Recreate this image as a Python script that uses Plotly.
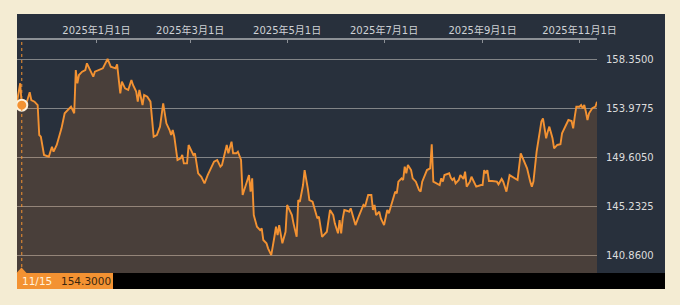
import plotly.graph_objects as go

# ---- data (USD/JPY style daily series) ----
dates = [
    "2024-11-12", "2024-11-13", "2024-11-14", "2024-11-15", "2024-11-18", "2024-11-20",
    "2024-11-21", "2024-11-23", "2024-11-25", "2024-11-26", "2024-11-27", "2024-11-29",
    "2024-12-02", "2024-12-04", "2024-12-05", "2024-12-07", "2024-12-10", "2024-12-12",
    "2024-12-15", "2024-12-16", "2024-12-18", "2024-12-19", "2024-12-20", "2024-12-21",
    "2024-12-23", "2024-12-25", "2024-12-26", "2024-12-27", "2024-12-30", "2024-12-31",
    "2025-01-03", "2025-01-05", "2025-01-08", "2025-01-10", "2025-01-13", "2025-01-14",
    "2025-01-16", "2025-01-17", "2025-01-19", "2025-01-21", "2025-01-23", "2025-01-24",
    "2025-01-26", "2025-01-27", "2025-01-28", "2025-01-29", "2025-01-30", "2025-01-31",
    "2025-02-02", "2025-02-04", "2025-02-05", "2025-02-06", "2025-02-08", "2025-02-10",
    "2025-02-12", "2025-02-14", "2025-02-16", "2025-02-17", "2025-02-18", "2025-02-19",
    "2025-02-21", "2025-02-23", "2025-02-24", "2025-02-25", "2025-02-27", "2025-02-28",
    "2025-03-02", "2025-03-03", "2025-03-04", "2025-03-06", "2025-03-08", "2025-03-09",
    "2025-03-10", "2025-03-12", "2025-03-14", "2025-03-15", "2025-03-16", "2025-03-18",
    "2025-03-20", "2025-03-21", "2025-03-23", "2025-03-24", "2025-03-25", "2025-03-27",
    "2025-03-28", "2025-03-30", "2025-03-31", "2025-04-02", "2025-04-03", "2025-04-05",
    "2025-04-06", "2025-04-07", "2025-04-08", "2025-04-09", "2025-04-10", "2025-04-12",
    "2025-04-14", "2025-04-15", "2025-04-16", "2025-04-18", "2025-04-19", "2025-04-21",
    "2025-04-23", "2025-04-24", "2025-04-25", "2025-04-26", "2025-04-28", "2025-04-30",
    "2025-05-01", "2025-05-04", "2025-05-05", "2025-05-07", "2025-05-08", "2025-05-09",
    "2025-05-11", "2025-05-12", "2025-05-14", "2025-05-15", "2025-05-17", "2025-05-19",
    "2025-05-20", "2025-05-21", "2025-05-23", "2025-05-24", "2025-05-26", "2025-05-28",
    "2025-05-30", "2025-05-31", "2025-06-02", "2025-06-03", "2025-06-04", "2025-06-05",
    "2025-06-06", "2025-06-08", "2025-06-09", "2025-06-10", "2025-06-13", "2025-06-15",
    "2025-06-17", "2025-06-18", "2025-06-19", "2025-06-21", "2025-06-23", "2025-06-24",
    "2025-06-25", "2025-06-26", "2025-06-28", "2025-06-29", "2025-07-01", "2025-07-03",
    "2025-07-04", "2025-07-06", "2025-07-08", "2025-07-09", "2025-07-10", "2025-07-12",
    "2025-07-13", "2025-07-14", "2025-07-15", "2025-07-16", "2025-07-18", "2025-07-19",
    "2025-07-21", "2025-07-23", "2025-07-24", "2025-07-25", "2025-07-27", "2025-07-28",
    "2025-07-30", "2025-07-31", "2025-08-01", "2025-08-03", "2025-08-05", "2025-08-06",
    "2025-08-07", "2025-08-08", "2025-08-11", "2025-08-12", "2025-08-13", "2025-08-14",
    "2025-08-15", "2025-08-17", "2025-08-18", "2025-08-20", "2025-08-21", "2025-08-22",
    "2025-08-24", "2025-08-25", "2025-08-27", "2025-08-28", "2025-08-31", "2025-09-01",
    "2025-09-02", "2025-09-03", "2025-09-04", "2025-09-05", "2025-09-07", "2025-09-09",
    "2025-09-10", "2025-09-11", "2025-09-13", "2025-09-14", "2025-09-15", "2025-09-16",
    "2025-09-18", "2025-09-20", "2025-09-22", "2025-09-23", "2025-09-25", "2025-09-27",
    "2025-09-29", "2025-10-01", "2025-10-02", "2025-10-03", "2025-10-05", "2025-10-07",
    "2025-10-08", "2025-10-09", "2025-10-11", "2025-10-12", "2025-10-13", "2025-10-15",
    "2025-10-16", "2025-10-18", "2025-10-20", "2025-10-21", "2025-10-22", "2025-10-24",
    "2025-10-25", "2025-10-27", "2025-10-28", "2025-10-29", "2025-10-30", "2025-11-01",
    "2025-11-02", "2025-11-03", "2025-11-04", "2025-11-05", "2025-11-06", "2025-11-07",
    "2025-11-09", "2025-11-11", "2025-11-12",
]
values = [
    154.60, 155.50, 156.26, 154.30, 154.50, 155.45,
    154.76, 154.61, 154.31, 151.62, 151.47, 149.83,
    149.68, 150.57, 150.13, 150.73, 152.22, 153.57,
    154.02, 154.16, 153.57, 157.45, 156.26, 157.00,
    157.30, 157.45, 158.05, 157.75, 156.85, 157.30,
    157.45, 157.60, 158.44, 157.75, 157.60, 157.96,
    155.36, 156.40, 155.81, 155.66, 156.56, 156.11,
    155.51, 154.61, 155.66, 155.06, 154.31, 155.21,
    155.06, 154.61, 152.82, 151.47, 151.62, 152.37,
    154.46, 152.67, 152.07, 151.62, 152.07, 151.47,
    149.38, 149.53, 149.83, 149.08, 149.08, 150.73,
    150.13, 149.83, 149.98, 148.19, 147.88, 147.59,
    147.29, 148.03, 148.63, 148.93, 149.23, 149.38,
    148.78, 148.93, 149.98, 150.73, 149.98, 151.02,
    149.98, 149.98, 150.13, 149.38, 146.24, 147.14,
    147.59, 148.03, 146.54, 147.74, 144.45, 143.40,
    143.10, 143.25, 142.21, 141.91, 141.46, 140.86,
    142.50, 143.40, 142.65, 143.55, 141.91, 142.95,
    145.35, 144.45, 143.70, 142.50, 145.79, 145.64,
    147.14, 148.48, 146.84, 145.79, 145.64, 144.74,
    144.15, 144.30, 142.50, 142.65, 142.95, 144.90,
    144.45, 143.70, 142.81, 144.00, 142.81, 144.15,
    144.90, 144.81, 144.74, 145.05, 143.55, 144.30,
    144.90, 145.35, 145.19, 146.24, 146.24, 144.90,
    145.35, 144.45, 144.74, 144.15, 143.55, 144.90,
    144.60, 145.64, 146.54, 146.39, 147.44, 147.74,
    147.59, 148.78, 148.19, 148.93, 148.48, 147.74,
    147.44, 146.69, 146.54, 147.44, 148.03, 148.48,
    148.63, 150.79, 147.44, 147.29, 147.14, 147.74,
    147.44, 148.03, 148.19, 147.79, 147.59, 147.74,
    147.29, 147.59, 148.03, 147.68, 148.33, 146.99,
    147.44, 147.88, 147.29, 146.99, 147.14, 147.14,
    148.48, 148.19, 148.48, 147.50, 147.50, 147.44,
    147.44, 147.20, 147.68, 147.44, 146.99, 146.54,
    148.03, 147.88, 147.74, 147.59, 149.98, 149.38,
    148.63, 147.44, 146.99, 147.44, 150.13, 151.92,
    152.82, 153.12, 151.33, 151.92, 152.37, 151.33,
    150.43, 150.73, 150.79, 151.77, 152.07, 152.82,
    152.97, 152.88, 152.22, 153.27, 154.16, 154.16,
    154.31, 154.02, 154.31, 153.71, 152.97, 153.57,
    154.02, 154.16, 154.61,
]
y_ticks = [140.86, 145.2325, 149.605, 153.9775, 158.35]
x_ticks = ["2025-01-01", "2025-03-01", "2025-05-01", "2025-07-01", "2025-09-01", "2025-11-01"]
x_tick_labels = ["2025年1月1日", "2025年3月1日", "2025年5月1日", "2025年7月1日", "2025年9月1日", "2025年11月1日"]
hover_date = "2024-11-15"
hover_label = "11/15"

# ---- geometry helpers (pixel -> paper) ----
W, H = 680, 305
def px(x):
    return x / W
def py(y):
    return 1 - y / H

ORANGE = "#f39232"
FONT = "DejaVu Sans, Noto Sans CJK JP, sans-serif"

hi = dates.index(hover_date)
hover_value = values[hi]

fig = go.Figure()
fig.add_trace(go.Scatter(
    x=dates, y=values, mode="lines",
    line=dict(color=ORANGE, width=1.9),
    fill="tozeroy", fillcolor="rgba(238,142,52,0.17)",
    hoverinfo="skip", showlegend=False,
))
fig.add_trace(go.Scatter(
    x=[dates[hi]], y=[hover_value], mode="markers",
    marker=dict(size=11, color=ORANGE, line=dict(color="#fdf1dc", width=2)),
    hoverinfo="skip", showlegend=False,
))

shapes = [
    dict(type="rect", xref="paper", yref="paper", x0=px(17), x1=px(665), y0=py(289), y1=py(14),
         fillcolor="#28303c", line=dict(width=0), layer="below"),
    dict(type="rect", xref="paper", yref="paper", x0=px(17), x1=px(665), y0=py(289), y1=py(273),
         fillcolor="#000000", line=dict(width=0), layer="below"),
    dict(type="line", xref="x", yref="paper", x0=dates[hi], x1=dates[hi], y0=py(273), y1=py(40),
         line=dict(color=ORANGE, width=1, dash="dot"), layer="above"),
    dict(type="rect", xref="paper", yref="paper", x0=px(17), x1=px(113), y0=py(289), y1=py(273),
         fillcolor=ORANGE, line=dict(width=0), layer="above"),
    dict(type="path", xref="paper", yref="paper",
         path=f"M {px(16.5)} {py(273)} L {px(21.5)} {py(267.5)} L {px(26.5)} {py(273)} Z",
         fillcolor=ORANGE, line=dict(width=0), layer="above"),
]

fig.update_layout(
    width=W, height=H,
    margin=dict(l=0, r=0, t=0, b=0, autoexpand=False),
    paper_bgcolor="#f4ecd3",
    plot_bgcolor="rgba(0,0,0,0)",
    font=dict(family=FONT, size=10, color="#d6d8da"),
    shapes=shapes,
    showlegend=False,
    xaxis=dict(
        domain=[px(17), px(597)],
        range=[dates[0], dates[-1]],
        side="top", automargin=False,
        tickmode="array", tickvals=x_ticks, ticktext=x_tick_labels,
        ticks="inside", ticklen=3, tickcolor="#8c9096", tickwidth=1,
        showline=True, linecolor="#8c9096", linewidth=1.5,
        showgrid=False, zeroline=False,
        tickfont=dict(size=10, color="#cfd2d6"),
        ticklabelstandoff=0,
    ),
    yaxis=dict(
        domain=[py(273), py(40)],
        range=[139.25, 160.14],
        side="right", automargin=False,
        tickmode="array", tickvals=y_ticks, ticktext=[f"{v:.4f}" for v in y_ticks],
        ticks="", showline=False, zeroline=False,
        showgrid=True, gridcolor="rgba(160,160,160,0.75)", gridwidth=1.3,
        tickfont=dict(size=10, color="#dcdcdc"),
        ticklabelstandoff=8,
    ),
    annotations=[
        dict(xref="paper", yref="paper", x=px(20), y=py(281), xanchor="left", yanchor="middle",
             text=hover_label, showarrow=False, font=dict(size=10.5, color="#fff3dc", family=FONT)),
        dict(xref="paper", yref="paper", x=px(59), y=py(281), xanchor="left", yanchor="middle",
             text=f"{hover_value:.4f}", showarrow=False, font=dict(size=10.5, color="#3a2710", family=FONT)),
    ],
)

fig.write_html("out.html")
